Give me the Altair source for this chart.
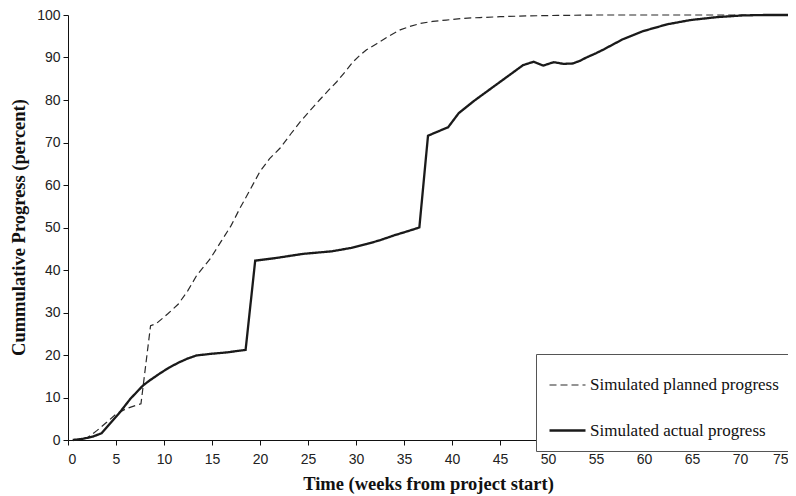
import altair as alt
import pandas as pd

planned_x = [0.5, 1, 2, 3, 4, 5, 6, 7, 7.6, 8.6, 9.2, 10.4, 11.5, 12.5, 13.4, 14.8, 16, 17, 17.9,
             19, 20, 21, 22.1, 23.2, 24.2, 25.2, 26.2, 27.1, 28, 29, 29.7, 30.4, 31.1, 32.2, 33.4,
             34.6, 35.6, 36.7, 38, 39.4, 41, 42.9, 45, 48, 51, 55, 60, 65, 70, 75]
planned_y = [0, 0.1, 0.5, 2.2, 4.1, 6.1, 7.3, 8.1, 8.5, 26.9, 27.4, 29.7, 32, 35.2, 38.7, 42.6, 46.9,
             50.5, 54.5, 59, 63.2, 66.2, 68.7, 72, 74.9, 77.5, 80, 82.2, 84.3, 87, 89, 90.5, 91.8,
             93.3, 95, 96.5, 97.3, 98, 98.5, 98.8, 99.2, 99.4, 99.6, 99.8, 99.9, 100, 100, 100, 100, 100]

actual_x = [0.5, 1.6, 2.6, 3.5, 4.5, 5.4, 6.5, 7.8, 8.5, 9.6, 10.5, 11.6, 12.5, 13.4, 15, 16.5, 18.5,
            19.5, 21.6, 24.5, 27.5, 29.5, 31.1, 32.5, 33.9, 35.2, 36.6, 37.5, 39.6, 40.7, 42.3, 44,
            45.7, 47.4, 48.5, 49.5, 50.6, 51.6, 52.6, 53.3, 54, 55, 55.8, 57.8, 59.9, 62.4, 64.8,
            67.6, 70.3, 72.5, 75]
actual_y = [0, 0.3, 0.8, 1.6, 4.2, 6.5, 9.7, 12.8, 14, 15.7, 17, 18.3, 19.2, 19.9, 20.3, 20.6, 21.2,
            42.2, 42.8, 43.8, 44.4, 45.2, 46.1, 47, 48.1, 49, 50, 71.6, 73.6, 76.9, 79.8, 82.6,
            85.4, 88.2, 89, 88.1, 88.9, 88.5, 88.6, 89.2, 90, 91, 91.9, 94.3, 96.2, 97.8, 98.8,
            99.5, 99.9, 100, 100]

series_names = ["Simulated planned progress", "Simulated actual progress"]
x_ticks = list(range(0, 80, 5))
y_ticks = list(range(0, 110, 10))

df = pd.concat([
    pd.DataFrame({"week": planned_x, "progress": planned_y, "series": series_names[0], "order": range(len(planned_x))}),
    pd.DataFrame({"week": actual_x, "progress": actual_y, "series": series_names[1], "order": range(len(actual_x))}),
])

legend = alt.Legend(
    title=None, orient="none", legendX=468, legendY=339,
    symbolType="stroke", symbolSize=1296,
    labelFont="Liberation Serif", labelFontSize=17, labelColor="#111",
    labelOffset=3, labelLimit=400,
    padding=12, rowPadding=18,
    fillColor="white", strokeColor="#555", cornerRadius=0,
)

chart = alt.Chart(df).mark_line().encode(
    x=alt.X("week:Q", scale=alt.Scale(domain=[0, 75], nice=False),
            axis=alt.Axis(values=x_ticks, title="Time (weeks from project start)",
                          titleX=360, titleY=43, titleBaseline="middle", titleAlign="center")),
    y=alt.Y("progress:Q", scale=alt.Scale(domain=[0, 100], nice=False),
            axis=alt.Axis(values=y_ticks, title="Cummulative Progress (percent)",
                          titleX=-50, titleY=212, titleAngle=-90, titleBaseline="middle",
                          titleAlign="center")),
    color=alt.Color("series:N", scale=alt.Scale(domain=series_names, range=["#2a2a2a", "#1a1a1a"]), legend=legend),
    strokeDash=alt.StrokeDash("series:N", scale=alt.Scale(domain=series_names, range=[[7, 4], [1, 0]]), legend=legend),
    strokeWidth=alt.StrokeWidth("series:N", scale=alt.Scale(domain=series_names, range=[1.2, 2.3]), legend=legend),
    order="order:Q",
).properties(
    width=720, height=425,
    autosize=alt.AutoSizeParams(type="none"),
    padding={"left": 60, "top": 7, "right": 0, "bottom": 54},
).configure_view(stroke=None).configure_axis(
    grid=False, domainColor="#111", tickColor="#111", tickSize=5,
    labelFont="Liberation Sans", labelFontSize=14, labelColor="#222",
    titleFont="Liberation Serif", titleFontSize=18.5, titleFontWeight="bold", titleColor="#111",
).configure_axisX(labelPadding=7).configure_axisY(labelPadding=3)

chart.save("out.html", embed_options={"renderer": "svg", "actions": False})
